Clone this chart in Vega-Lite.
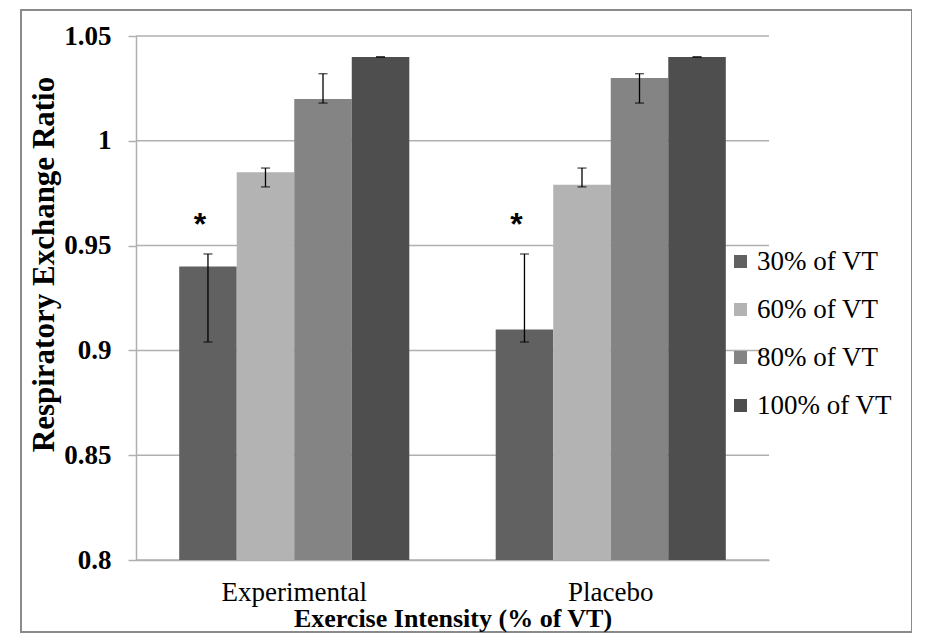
{
  "$schema": "https://vega.github.io/schema/vega-lite/v6.json",
  "width": 891,
  "height": 622,
  "autosize": {"type": "none"},
  "padding": {"left": 21, "top": 10, "right": 0, "bottom": 11},
  "background": "white",
  "config": {
    "view": {"stroke": "#8a8a8a", "strokeWidth": 2},
    "font": "Liberation Serif",
    "axisY": {
      "orient": "left",
      "offset": -115,
      "format": "~g",
      "grid": false,
      "domainColor": "#b0b0b0",
      "domainWidth": 1.5,
      "tickColor": "#b0b0b0",
      "tickWidth": 1.5,
      "tickSize": 8,
      "labelFont": "Liberation Serif",
      "labelFontSize": 27,
      "labelFontWeight": "bold",
      "labelColor": "black",
      "labelPadding": 17,
      "titleFont": "Liberation Serif",
      "titleFontSize": 31,
      "titleFontWeight": "bold",
      "titleColor": "black",
      "titleX": -83,
      "titleY": 254,
      "titleAngle": -90,
      "titleAlign": "center",
      "titleBaseline": "alphabetic"
    }
  },
  "resolve": {"scale": {"x": "independent"}},
  "layer": [
    {
      "data": {
        "values": [
          {"tick": 0.8}, {"tick": 0.85}, {"tick": 0.9}, {"tick": 0.95}, {"tick": 1.0}, {"tick": 1.05}
        ]
      },
      "mark": {"type": "rule", "color": "#b0b0b0", "strokeWidth": 1.5},
      "encoding": {
        "x": {"datum": 0, "type": "quantitative", "scale": {"domain": [0, 1], "range": [115, 748]}, "axis": null},
        "x2": {"datum": 1},
        "y": {
          "field": "tick",
          "type": "quantitative",
          "scale": {"domain": [0.8, 1.05], "range": [550, 26], "nice": false, "zero": false},
          "axis": {"title": "Respiratory Exchange Ratio", "values": [0.8, 0.85, 0.9, 0.95, 1, 1.05]}
        }
      }
    },
    {
      "data": {
        "values": [
          {"group": "Experimental", "series": "30% of VT", "value": 0.94, "low": 0.904, "high": 0.946},
          {"group": "Experimental", "series": "60% of VT", "value": 0.985, "low": 0.978, "high": 0.987},
          {"group": "Experimental", "series": "80% of VT", "value": 1.02, "low": 1.018, "high": 1.032},
          {"group": "Experimental", "series": "100% of VT", "value": 1.04, "low": 1.04, "high": 1.04},
          {"group": "Placebo", "series": "30% of VT", "value": 0.91, "low": 0.904, "high": 0.946},
          {"group": "Placebo", "series": "60% of VT", "value": 0.979, "low": 0.978, "high": 0.987},
          {"group": "Placebo", "series": "80% of VT", "value": 1.03, "low": 1.018, "high": 1.032},
          {"group": "Placebo", "series": "100% of VT", "value": 1.04, "low": 1.04, "high": 1.04}
        ]
      },
      "encoding": {
        "x": {
          "field": "group",
          "type": "nominal",
          "sort": ["Experimental", "Placebo"],
          "scale": {"range": [115, 748], "paddingInner": 0.273, "paddingOuter": 0.1365},
          "axis": {
            "orient": "bottom",
            "offset": -72,
            "title": "Exercise Intensity (% of VT)",
            "labelAngle": 0,
            "labelFont": "Liberation Serif",
            "labelFontSize": 27,
            "labelColor": "black",
            "labelPadding": 19,
            "ticks": false,
            "tickSize": 0,
            "domainColor": "#aaaaaa",
            "domainWidth": 1.5,
            "grid": false,
            "titleFont": "Liberation Serif",
            "titleFontSize": 26,
            "titleFontWeight": "bold",
            "titleColor": "black",
            "titleY": 66,
            "titleBaseline": "alphabetic"
          }
        },
        "xOffset": {
          "field": "series",
          "type": "nominal",
          "sort": ["30% of VT", "60% of VT", "80% of VT", "100% of VT"]
        }
      },
      "layer": [
        {
          "mark": {"type": "bar"},
          "encoding": {
            "y": {
              "field": "value",
              "type": "quantitative",
              "scale": {"domain": [0.8, 1.05], "range": [550, 26], "nice": false, "zero": false},
              "axis": {"title": "Respiratory Exchange Ratio", "values": [0.8, 0.85, 0.9, 0.95, 1, 1.05]}
            },
            "y2": {"datum": 0.8},
            "color": {
              "field": "series",
              "type": "nominal",
              "sort": ["30% of VT", "60% of VT", "80% of VT", "100% of VT"],
              "scale": {
                "domain": ["30% of VT", "60% of VT", "80% of VT", "100% of VT"],
                "range": ["#616161", "#b3b3b3", "#848484", "#4e4e4e"]
              },
              "legend": {
                "orient": "none",
                "legendX": 706,
                "legendY": 238,
                "title": null,
                "symbolType": "square",
                "symbolSize": 169,
                "symbolStrokeWidth": 0,
                "symbolOpacity": 1,
                "labelFont": "Liberation Serif",
                "labelFontSize": 27,
                "labelColor": "black",
                "labelOffset": 3,
                "labelLimit": 300,
                "rowPadding": 20
              }
            }
          }
        },
        {
          "mark": {"type": "rule", "color": "black", "strokeWidth": 1.3},
          "encoding": {
            "y": {"field": "low", "type": "quantitative", "scale": {"domain": [0.8, 1.05], "range": [550, 26], "nice": false, "zero": false}, "axis": {"title": "Respiratory Exchange Ratio", "values": [0.8, 0.85, 0.9, 0.95, 1, 1.05]}},
            "y2": {"field": "high"}
          }
        },
        {
          "mark": {"type": "tick", "color": "black", "size": 9, "thickness": 1.3},
          "encoding": {
            "y": {"field": "low", "type": "quantitative", "scale": {"domain": [0.8, 1.05], "range": [550, 26], "nice": false, "zero": false}, "axis": {"title": "Respiratory Exchange Ratio", "values": [0.8, 0.85, 0.9, 0.95, 1, 1.05]}}
          }
        },
        {
          "mark": {"type": "tick", "color": "black", "size": 9, "thickness": 1.3},
          "encoding": {
            "y": {"field": "high", "type": "quantitative", "scale": {"domain": [0.8, 1.05], "range": [550, 26], "nice": false, "zero": false}, "axis": {"title": "Respiratory Exchange Ratio", "values": [0.8, 0.85, 0.9, 0.95, 1, 1.05]}}
          }
        },
        {
          "data": {
            "values": [
              {"group": "Experimental", "series": "30% of VT", "note": "*", "pos": 0.955},
              {"group": "Placebo", "series": "30% of VT", "note": "*", "pos": 0.955}
            ]
          },
          "mark": {"type": "text", "font": "Liberation Sans", "fontWeight": "bold", "fontSize": 32, "dx": -8, "baseline": "alphabetic", "color": "black"},
          "encoding": {
            "y": {"field": "pos", "type": "quantitative", "scale": {"domain": [0.8, 1.05], "range": [550, 26], "nice": false, "zero": false}, "axis": {"title": "Respiratory Exchange Ratio", "values": [0.8, 0.85, 0.9, 0.95, 1, 1.05]}},
            "text": {"field": "note"}
          }
        }
      ]
    }
  ]
}
